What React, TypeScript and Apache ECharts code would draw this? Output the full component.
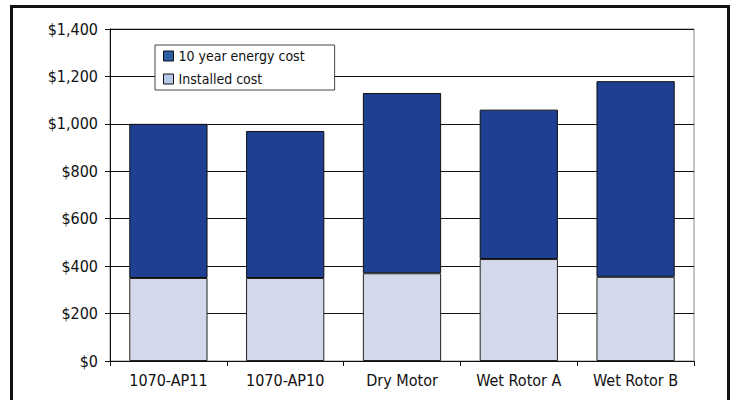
import React, { useEffect, useRef } from "react";
import * as echarts from "echarts";

const categories = ["1070-AP11", "1070-AP10", "Dry Motor", "Wet Rotor A", "Wet Rotor B"];
const installedCost = [350, 350, 370, 430, 355];
const energyCost = [650, 620, 760, 630, 825];
const seriesNames = ["10 year energy cost", "Installed cost"];

const FONT = "'DejaVu Sans Condensed', 'Liberation Sans Narrow', sans-serif";

export default function App() {
  const ref = useRef<HTMLDivElement>(null);
  useEffect(() => {
    if (!ref.current) return;
    const chart = echarts.init(ref.current, null, { renderer: "svg" });
    chart.setOption({
      animation: false,
      backgroundColor: "#ffffff",
      textStyle: { fontFamily: FONT },
      graphic: [
        {
          type: "rect",
          shape: { x: 11.5, y: 6.5, width: 717, height: 400 },
          style: { fill: "none", stroke: "#111", lineWidth: 3 },
          z: 100,
        },
      ],
      grid: { left: 110, right: 38, top: 29, bottom: 39, show: true, borderColor: "#888", borderWidth: 1 },
      legend: {
        left: 155,
        top: 45,
        orient: "vertical",
        itemGap: 9,
        itemWidth: 10,
        itemHeight: 10,
        padding: [4, 30, 4, 8],
        backgroundColor: "#ffffff",
        borderColor: "#444",
        borderWidth: 1,
        textStyle: { fontFamily: FONT, fontSize: 14, color: "#111" },
        data: [
          { name: seriesNames[0], icon: "rect", itemStyle: { color: "#2b5fa4", borderColor: "#111", borderWidth: 1 } },
          { name: seriesNames[1], icon: "rect", itemStyle: { color: "#b7c9e9", borderColor: "#111", borderWidth: 1 } },
        ],
        z: 10,
      },
      xAxis: {
        type: "category",
        data: categories,
        axisLine: { show: true, lineStyle: { color: "#111", width: 1 } },
        axisTick: { show: true, length: 5, alignWithLabel: false, lineStyle: { color: "#111" } },
        axisLabel: { interval: 0, fontFamily: FONT, fontSize: 16, color: "#111", margin: 11 },
      },
      yAxis: {
        type: "value",
        min: 0,
        max: 1400,
        interval: 200,
        axisLine: { show: true, lineStyle: { color: "#111", width: 1 } },
        axisTick: { show: true, length: 5, lineStyle: { color: "#111" } },
        axisLabel: {
          fontFamily: FONT,
          fontSize: 16,
          color: "#111",
          margin: 12,
          formatter: (v: number) => "$" + v.toLocaleString("en-US"),
        },
        splitLine: { show: true, lineStyle: { color: "#111", width: 1 } },
      },
      series: [
        {
          name: seriesNames[1],
          type: "bar",
          stack: "total",
          data: installedCost,
          barCategoryGap: "33%",
          itemStyle: { color: "#d3d9ea", borderColor: "#222", borderWidth: 1 },
        },
        {
          name: seriesNames[0],
          type: "bar",
          stack: "total",
          data: energyCost,
          barCategoryGap: "33%",
          itemStyle: { color: "#1e3f92", borderColor: "#111", borderWidth: 1 },
        },
      ],
    });
    return () => chart.dispose();
  }, []);
  return <div ref={ref} style={{ width: 732, height: 400, position: "absolute", left: 0, top: 0 }} />;
}
